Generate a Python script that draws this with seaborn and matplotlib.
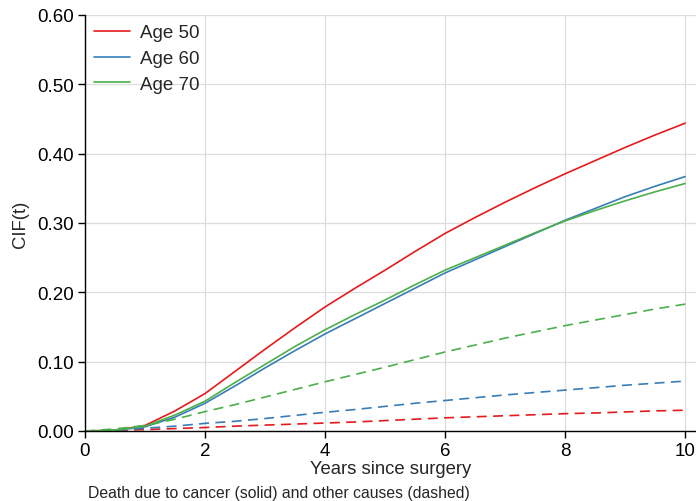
import numpy as np
import pandas as pd
import matplotlib
matplotlib.use("Agg")
import matplotlib.pyplot as plt
from matplotlib.lines import Line2D
import seaborn as sns

years = [0, 0.5, 1, 1.5, 2, 2.5, 3, 3.5, 4, 4.5, 5, 5.5, 6, 6.5, 7, 7.5, 8, 8.5, 9, 9.5, 10]

cancer_age50 = [0, 0.001, 0.008, 0.029, 0.054, 0.086, 0.118, 0.149, 0.179, 0.206, 0.232,
                0.259, 0.285, 0.308, 0.330, 0.351, 0.371, 0.390, 0.409, 0.427, 0.444]
cancer_age60 = [0, 0.0008, 0.006, 0.020, 0.040, 0.065, 0.091, 0.116, 0.140, 0.162, 0.184,
                0.206, 0.228, 0.247, 0.266, 0.285, 0.304, 0.321, 0.338, 0.353, 0.367]
cancer_age70 = [0, 0.001, 0.007, 0.023, 0.043, 0.070, 0.096, 0.122, 0.146, 0.168, 0.189,
                0.211, 0.232, 0.250, 0.268, 0.286, 0.303, 0.318, 0.332, 0.345, 0.357]
other_age50 = [0, 0.001, 0.002, 0.0035, 0.005, 0.007, 0.0085, 0.010, 0.0115, 0.013, 0.015,
               0.017, 0.019, 0.0205, 0.022, 0.0235, 0.025, 0.026, 0.0275, 0.029, 0.030]
other_age60 = [0, 0.001, 0.004, 0.007, 0.011, 0.014, 0.018, 0.0225, 0.027, 0.031, 0.0355,
               0.040, 0.044, 0.048, 0.052, 0.0555, 0.059, 0.0625, 0.066, 0.069, 0.072]
other_age70 = [0, 0.003, 0.008, 0.017, 0.028, 0.038, 0.049, 0.060, 0.071, 0.0815, 0.092,
               0.103, 0.114, 0.124, 0.134, 0.143, 0.152, 0.160, 0.168, 0.176, 0.183]

ages = ["Age 50", "Age 60", "Age 70"]
causes = ["cancer", "other"]
series = {
    ("Age 50", "cancer"): cancer_age50,
    ("Age 60", "cancer"): cancer_age60,
    ("Age 70", "cancer"): cancer_age70,
    ("Age 50", "other"): other_age50,
    ("Age 60", "other"): other_age60,
    ("Age 70", "other"): other_age70,
}

rows = []
for (age, cause), vals in series.items():
    for t, v in zip(years, vals):
        rows.append({"t": t, "cif": v, "age": age, "cause": cause})
df = pd.DataFrame(rows)

sns.set_style("white")
plt.rcParams["font.family"] = ["Liberation Sans", "DejaVu Sans"]
plt.rcParams.update({
    "xtick.bottom": True, "ytick.left": True,
    "xtick.major.size": 5, "ytick.major.size": 5,
    "xtick.major.width": 1, "ytick.major.width": 1,
    "xtick.color": "black", "ytick.color": "black",
})

colors = {"Age 50": "#e41a1c", "Age 60": "#377eb8", "Age 70": "#4daf4a"}

fig = plt.figure(figsize=(6.96, 5.02), dpi=100)
ax = fig.add_axes([85 / 696, 1 - 432 / 502, 611 / 696, (432 - 16) / 502])

sns.lineplot(data=df, x="t", y="cif", hue="age", style="cause",
             hue_order=ages, style_order=causes, palette=colors,
             dashes={"cancer": "", "other": (6, 3.8)}, linewidth=1.2,
             legend=False, ax=ax, sort=True, estimator=None)

ax.set_xlim(0, 10.18)
ax.set_ylim(0, 0.6)
ax.set_xticks([0, 2, 4, 6, 8, 10])
ax.set_xticklabels(["0", "2", "4", "6", "8", "10"])
yt = [0, 0.1, 0.2, 0.3, 0.4, 0.5, 0.6]
ax.set_yticks(yt)
ax.set_yticklabels([f"{v:.2f}" for v in yt])
ax.tick_params(axis="both", which="major", bottom=True, left=True,
               labelsize=13.5, length=5, width=1, color="black",
               direction="out", pad=3, labelcolor="black")
ax.grid(True, color="#dddddd", linewidth=0.9)
ax.set_axisbelow(True)
for s in ["top", "right"]:
    ax.spines[s].set_visible(False)
for s in ["left", "bottom"]:
    ax.spines[s].set_color("black")
    ax.spines[s].set_linewidth(1.0)

ax.set_xlabel("Years since surgery", fontsize=13.3, labelpad=1)
ax.set_ylabel("CIF(t)", fontsize=13.3, labelpad=6)

handles = [Line2D([0], [0], color=colors[a], linewidth=1.2) for a in ages]
ax.legend(handles, ages, loc="upper left", frameon=False, fontsize=13.5,
          handlelength=1.9, handletextpad=0.55, labelspacing=0.45,
          bbox_to_anchor=(0.0, 1.0), borderaxespad=0.1)

fig.text(88 / 696, 1 - 494 / 502, "Death due to cancer (solid) and other causes (dashed)",
         fontsize=11.3, ha="left", va="center")

fig.savefig("out.png", dpi=100)
